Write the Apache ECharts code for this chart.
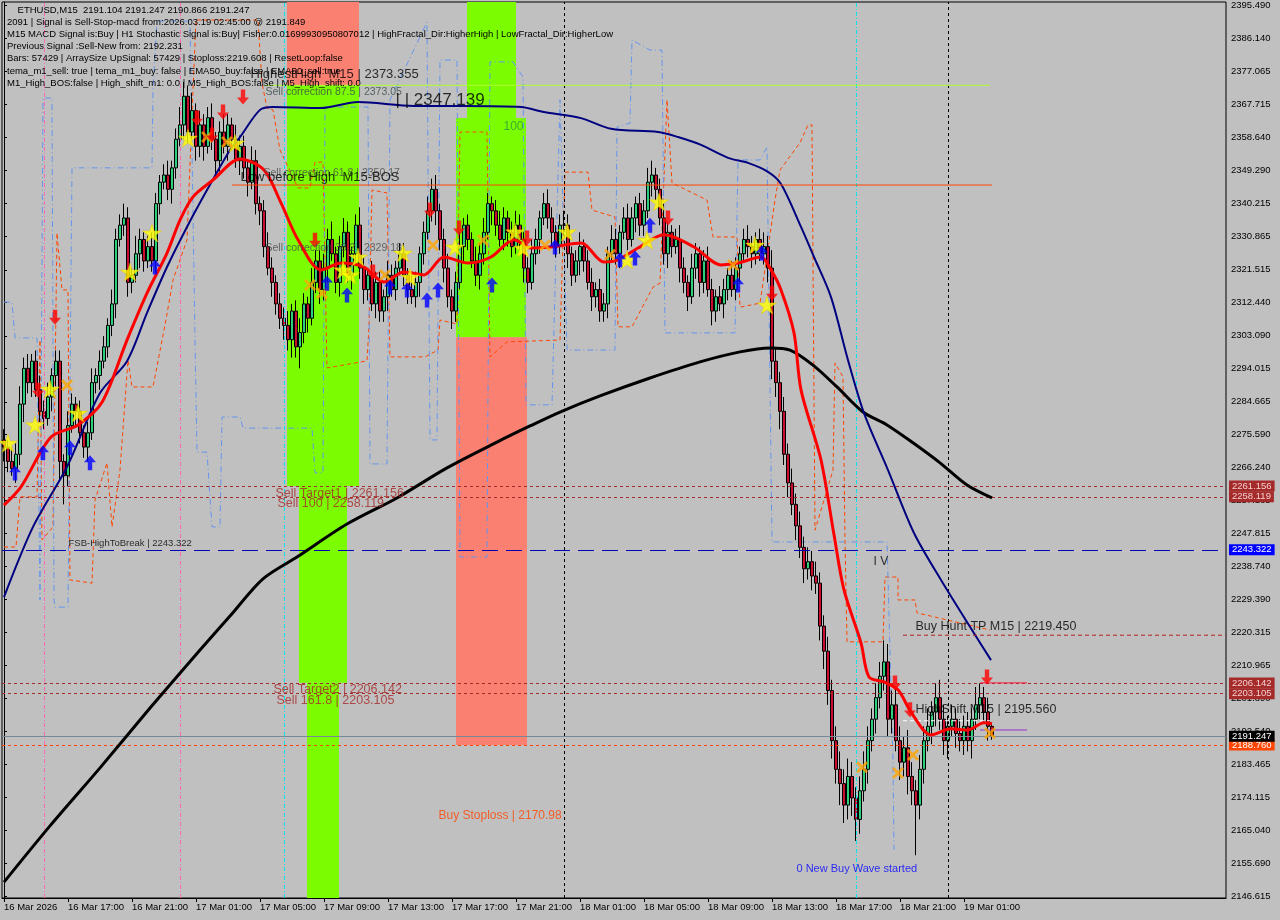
<!DOCTYPE html>
<html><head><meta charset="utf-8">
<script src="https://cdn.jsdelivr.net/npm/echarts@6/dist/echarts.min.js"></script>
<style>html,body{margin:0;padding:0;background:#c0c0c0}#c{width:1280px;height:920px}</style>
</head><body><div id="c"></div>
<script>
// ---------- DATA ----------
const closes = [
2272,2268,2266,2270,2284,2294,2290,2296,2288,2282,
2280,2286,2292,2296,2268,2264,2278,2284,2282,2276,
2272,2276,2290,2292,2296,2300,2306,2312,2330,2334,
2336,2318,2320,2326,2330,2324,2328,2324,2340,2346,
2348,2344,2350,2358,2362,2370,2360,2366,2356,2362,
2356,2364,2358,2352,2360,2356,2362,2358,2352,2356,
2350,2346,2352,2340,2338,2328,2322,2318,2312,2308,
2306,2302,2310,2300,2304,2312,2308,2318,2324,2316,
2322,2330,2326,2318,2328,2332,2320,2326,2334,2322,
2316,2320,2312,2318,2310,2314,2320,2316,2322,2326,
2320,2316,2314,2318,2326,2332,2338,2344,2338,2330,
2322,2314,2310,2318,2328,2334,2330,2324,2320,2326,
2332,2340,2338,2334,2330,2336,2332,2328,2334,2330,
2322,2318,2326,2330,2336,2340,2336,2332,2328,2334,
2334,2326,2320,2324,2328,2324,2318,2314,2316,2310,
2312,2326,2330,2326,2332,2336,2330,2336,2340,2334,
2338,2346,2348,2344,2336,2326,2332,2328,2330,2322,
2318,2314,2322,2326,2318,2324,2316,2310,2314,2312,
2316,2320,2316,2322,2326,2330,2328,2326,2330,2326,
2328,2322,2296,2290,2282,2270,2262,2256,2250,2244,
2238,2240,2236,2234,2222,2215,2204,2190,2182,2178,
2172,2180,2174,2168,2176,2182,2190,2196,2202,2208,
2212,2196,2200,2190,2184,2188,2180,2176,2172,2182,
2190,2194,2198,2202,2196,2190,2194,2196,2192,2190,
2194,2190,2196,2200,2202,2198,2194,2191.247];
const firstOpen = 2274;
const wickUp = [
3,2,4,3,5,3,4,2,3,4, 3,4,2,3,3,2,4,3,2,3, 2,3,4,2,3,3,2,4,3,3, 4,3,2,5,3,2,3,4,3,2,
3,4,2,3,5,4,3,5,2,4, 3,3,4,2,3,5,3,2,4,3, 3,2,4,3,2,3,4,3,2,3, 3,4,2,3,4,3,2,4,3,3,
4,3,5,2,3,4,3,2,3,5, 3,2,4,3,3,2,4,3,2,3, 3,2,4,3,2,3,4,3,4,2, 3,4,2,3,4,2,3,2,4,3,
4,3,2,3,4,3,2,3,4,3, 2,3,4,3,2,3,4,3,2,3, 4,3,2,3,4,2,3,4,2,3, 3,2,4,3,2,3,4,3,2,3,
3,4,4,2,3,4,3,2,3,4, 3,2,4,3,2,3,4,3,2,3, 3,2,4,3,2,3,4,3,2,3, 4,3,5,4,3,4,3,4,3,4,
3,4,3,4,3,3,4,3,4,5, 4,5,4,3,4,5,4,3,4,4, 6,5,4,5,4,3,5,4,3,4, 4,5,3,4,5,4,3,4,3,4,
3,4,3,5,4,3,4,1];
const wickDn = [
4,3,2,4,3,5,3,4,2,3, 3,2,4,3,5,8,3,2,4,3, 3,4,2,3,4,2,3,3,4,2, 3,4,3,2,4,3,2,3,4,3,
2,3,4,3,2,4,3,2,4,3, 4,2,3,4,3,2,4,3,2,4, 3,4,2,3,4,3,2,4,3,3, 4,3,5,3,6,3,4,2,3,4,
3,4,2,3,4,3,2,4,3,3, 4,3,2,4,3,3,4,2,3,2, 3,4,2,3,4,3,2,3,4,3, 4,3,5,3,2,4,3,2,3,4,
3,2,4,3,2,3,4,3,2,3, 4,3,2,3,4,2,3,4,3,2, 3,4,3,2,4,3,2,4,3,3, 3,4,2,3,4,2,3,2,4,3,
3,2,4,3,2,3,4,3,2,4, 3,4,2,3,4,3,2,4,3,2, 4,3,2,3,4,2,3,4,3,2, 3,4,5,4,5,3,4,3,4,3,
4,3,4,3,4,5,4,5,4,6, 5,4,5,6,4,3,4,3,4,3, 4,5,4,3,5,4,5,4,14,4, 4,3,5,4,3,4,5,3,4,3,
4,3,5,3,4,3,4,1];

const tickLabels = ['16 Mar 2026','16 Mar 17:00','16 Mar 21:00','17 Mar 01:00','17 Mar 05:00','17 Mar 09:00',
 '17 Mar 13:00','17 Mar 17:00','17 Mar 21:00','18 Mar 01:00','18 Mar 05:00','18 Mar 09:00',
 '18 Mar 13:00','18 Mar 17:00','18 Mar 21:00','19 Mar 01:00'];
const yTicks = [2395.490,2386.140,2377.065,2367.715,2358.640,2349.290,2340.215,2330.865,2321.515,2312.440,
 2303.090,2294.015,2284.665,2275.590,2266.240,2257.165,2247.815,2238.740,2229.390,2220.315,2210.965,
 2201.890,2192.540,2183.465,2174.115,2165.040,2155.690,2146.615];

const redMA = [[0,2255.8],[4.25,2260.9],[11.75,2274.8],[18.5,2278.2],[24.5,2284.5],[30.75,2301.9],[35.75,2315.0],[40.75,2326.2],[44,2335.4],[47.25,2341.9],[52.25,2346.6],[59,2352.5],[65,2349.4],[69.25,2340.2],[73.5,2329.9],[79.25,2321.5],[84.25,2323.4],[90,2322.3],[95,2318.1],[100,2320.9],[105,2320.1],[110,2325.1],[116,2323.4],[121.75,2325.1],[127.5,2329.9],[131.75,2327.6],[136.75,2327.9],[144.25,2329.0],[150,2323.7],[153.5,2324.3],[158.5,2327.6],[165,2331.3],[172.5,2327.9],[179.25,2322.9],[183.5,2323.4],[189.25,2325.1],[191.75,2321.5],[194.25,2315.9],[197.5,2303.9],[199.25,2288.0],[204.25,2268.4],[207.5,2247.5],[210,2232.1],[214.25,2217.3],[216.25,2207.8],[220,2206.4],[223.5,2204.2],[226.75,2198.0],[231.75,2191.6],[236.75,2193.3],[241,2193.0],[245,2195.0],[247,2194.7]];
const navyMA = [[0,2230.1],[7.25,2249.7],[15.75,2266.5],[24,2287.1],[30.75,2296.0],[35.75,2309.5],[40.75,2322.3],[45.75,2333.5],[50.75,2343.8],[56.5,2355.0],[59,2358.6],[64,2366.2],[67.25,2367.0],[79.25,2366.7],[88.5,2368.4],[102.5,2367.3],[115,2367.3],[129.25,2367.0],[135,2365.6],[144.25,2363.9],[151.75,2360.9],[163.5,2360.0],[168.5,2358.6],[174.25,2356.4],[181,2352.8],[186,2351.4],[191,2348.9],[194.25,2345.5],[199.25,2333.5],[202.5,2325.1],[206.75,2313.9],[211,2296.3],[215,2281.5],[221,2265.6],[227.5,2248.0],[234.25,2234.9],[246.75,2212.5]];
const blackMA = [[0,2150.5],[11.5,2166.2],[24,2182.4],[36.5,2199.1],[49,2215.3],[56.5,2224.8],[64.75,2235.2],[73.25,2241.3],[85.75,2250.5],[98.25,2257.8],[110.75,2266.2],[123.25,2273.4],[131.5,2277.9],[139,2281.8],[149,2286.3],[161.5,2291.3],[174,2295.8],[184,2298.6],[191.5,2299.7],[196.5,2299.1],[202.25,2294.9],[208.25,2288.8],[214.75,2281.8],[220.75,2278.2],[227.25,2273.2],[234,2267.6],[240.75,2261.4],[247,2257.8]];

const orangeBand = [[0,2244.1],[3,2244.1],[4,2258.1],[8.25,2258.1],[9,2301.9],[9.5,2246.1],[12.25,2249.7],[13.25,2331.8],[14.5,2315.9],[16,2315.9],[16.5,2234.9],[22,2234.0],[22.75,2257.2],[25.75,2267.6],[27,2249.7],[29,2265.6],[31,2296.3],[32,2288.8],[37.25,2288.8],[40.25,2306.1],[42.25,2318.7],[45.75,2329.9],[47,2365.3],[48,2391.3],[63.5,2391.3],[64.5,2373.7],[65.75,2366.7],[67.25,2366.2],[69,2355.0],[73.5,2344.4],[76.5,2344.4],[77.75,2351.6],[79.75,2351.6],[80.75,2294.1],[90.75,2296.1],[91.25,2305.6],[92,2343.8],[95.75,2343.0],[96.5,2297.2],[105.25,2297.2],[108.5,2299.1],[109,2307.5],[113.25,2306.4],[114,2360.0],[120.75,2360.0],[121.5,2297.2],[125.75,2301.4],[139,2301.9],[140.25,2348.8],[146,2348.8],[147,2338.2],[152.75,2336.3],[153.5,2305.6],[157,2305.6],[162.25,2316.7],[164,2317.8],[165.75,2369.0],[167,2345.8],[175.75,2341.0],[177.25,2330.7],[183.25,2330.7],[184,2311.1],[189,2312.2],[192.75,2341.0],[194,2349.4],[199,2357.0],[201,2362.0],[202,2362.0],[202.75,2248.8],[207.25,2265.6],[207.75,2295.5],[209.75,2291.6],[210.25,2246.1],[210.75,2217.6],[219.75,2217.6],[220.25,2235.7],[223.5,2235.7],[223.5,2229.3],[227.75,2229.3],[228.25,2225.7],[246.5,2220.9]];
const blueBand = [[0,2312.5],[2,2312.5],[2.75,2302.5],[8.25,2302.5],[9,2229.3],[9.75,2369.5],[12,2369.5],[12.5,2229.3],[12.75,2227.3],[16,2227.3],[17,2350.0],[37,2350.0],[37.25,2371.8],[38.25,2391.0],[46.5,2391.0],[47.75,2301.9],[48.25,2270.6],[50.75,2270.6],[52,2249.7],[54,2249.7],[54.5,2280.4],[59,2280.4],[59.75,2277.3],[77,2277.3],[77.75,2264.8],[79.75,2264.8],[80.25,2367.0],[91,2367.0],[91.5,2267.3],[95.75,2267.3],[96.5,2369.0],[105.75,2390.7],[106.5,2274.0],[108.25,2274.0],[109,2380.1],[113.25,2380.1],[114,2241.3],[120.75,2241.3],[121.5,2379.6],[127.25,2379.6],[129.75,2375.4],[130.5,2283.8],[137,2283.8],[139,2369.0],[140.75,2299.1],[152.75,2299.1],[153.25,2361.4],[156.5,2362.5],[157,2385.7],[161.5,2382.9],[164.5,2382.9],[165.25,2303.9],[182.75,2303.9],[183.5,2352.2],[189,2352.2],[190.75,2355.8],[192,2245.5],[220.75,2245.5],[222.25,2184.6],[222.5,2159.5]];

const starPts = [[1,2273.1],[7.75,2278.2],[11.5,2288.2],[18.5,2281.5],[31.5,2320.9],[37,2331.8],[46,2358.3],[57.75,2356.9],[84.75,2321.5],[86.5,2320.1],[88.5,2325.1],[99.75,2326.2],[101.5,2319.5],[112.75,2327.9],[127.75,2332.1],[129.75,2327.6],[140.75,2332.1],[155.75,2324.3],[160.75,2329.8],[163.75,2340.5],[187.75,2328.4],[190.75,2311.7]];
const crossPts = [[15.75,2289.3],[50.75,2358.6],[55.75,2357.2],[76.5,2317.3],[79.5,2315.0],[95.25,2320.1],[107.25,2328.4],[119.75,2329.8],[135.25,2328.4],[151.5,2325.7],[182.25,2322.9],[214.5,2182.6],[223.5,2181.0],[227.25,2186.0],[246.5,2192.1]];
const upArrowPts = [[2.75,2264.8],[9.75,2270.4],[16.5,2271.8],[21.5,2267.6],[37.75,2322.3],[80.75,2317.8],[85.75,2314.5],[96.5,2316.7],[100.75,2315.9],[105.75,2313.1],[108.5,2315.9],[122,2317.3],[137.75,2327.9],[154,2324.3],[157.75,2324.8],[161.5,2334.0],[183.5,2317.3],[189.5,2326.2]];
const downArrowPts = [[8.5,2287.9],[12.75,2308.3],[48.25,2363.9],[52,2359.2],[54.75,2365.6],[59.75,2369.8],[77.75,2329.8],[92.25,2320.9],[106.5,2338.2],[113.75,2333.2],[130.75,2330.4],[166,2336.0],[192,2315.0],[222.75,2206.1],[226.5,2198.6],[245.75,2207.8]];

const levelLines = [
 {v:2261.156, color:'#a52a2a', type:[3,3], bg:'#a52a2a', fg:'#f4d0d0'},
 {v:2258.119, color:'#a52a2a', type:[3,3], bg:'#a52a2a', fg:'#f4d0d0'},
 {v:2243.322, color:'#0000b4', type:[16,8], bg:'#0000ff', fg:'#ffffff'},
 {v:2206.142, color:'#a52a2a', type:[3,3], bg:'#a52a2a', fg:'#f4d0d0'},
 {v:2203.105, color:'#a52a2a', type:[3,3], bg:'#a52a2a', fg:'#f4d0d0'},
 {v:2188.760, color:'#ff4500', type:[3,3], bg:'#ff4500', fg:'#ffffff'},
 {v:2191.247, color:'#778899', type:'solid', bg:'#000000', fg:'#ffffff'}
];
const vLines = [
 {x:10, color:'#ff69b4', type:[4,2,1,2]},
 {x:44, color:'#ff69b4', type:[4,2,1,2]},
 {x:70, color:'#00e5ee', type:[4,2,1,2]},
 {x:140, color:'#000000', type:[3,3]},
 {x:236, color:'#000000', type:[3,3]},
 {x:213, color:'#00e5ee', type:[4,2,1,2]}
];
// boxes: [x1, x2, priceTop, priceBottom, color]
const boxes = [
 [70.75, 88.75, 2396.33, 2373.05, '#fa8072'],
 [70.75, 88.75, 2373.05, 2261.156, '#7cfc00'],
 [73.75, 85.75, 2261.156, 2206.142, '#7cfc00'],
 [75.75, 83.75, 2206.142, 2146.05, '#7cfc00'],
 [115.75, 128, 2396.33, 2363.9, '#7cfc00'],
 [113, 130.5, 2363.9, 2302.7, '#7cfc00'],
 [113, 130.75, 2302.7, 2188.76, '#fa8072']
];
// short segments: [x1, x2, price, color, type, width]
const segments = [
 [65.25, 246.5, 2373.05, '#adff2f', 'solid', 1],
 [57, 247, 2345.2, '#ff4500', 'solid', 1],
 [224.75, 305.5, 2219.45, '#b22222', [4,3], 1],
 [224.75, 246.5, 2195.56, '#ffffff', [4,3], 1],
 [244, 255.75, 2206.14, '#ff1a3c', 'solid', 1],
 [244, 255.75, 2192.98, '#9932cc', 'solid', 1]
];
// chart texts: [x, price, text, color, size]
const chartTexts = [
 [61.5, 2376.2, 'HighestHigh  M15 | 2373.355', '#000000', 13],
 [65.25, 2371.2, 'Sell correction 87.5 | 2373.05', '#3a4a4a', 10.5],
 [97.75, 2369.0, '| | 2347.139', '#000000', 17],
 [124.75, 2361.4, '100', '#279a3e', 12],
 [64.75, 2348.6, 'Sell correction 61.8 | 2350.17', '#4a4a4a', 10.5],
 [59, 2347.4, 'Low before High  M15-BOS', '#000000', 13],
 [65.25, 2327.6, 'Sell correction 38.2 | 2329.18', '#4a4a4a', 10.5],
 [67.75, 2258.9, 'Sell Target1 | 2261.156', '#a52a2a', 12.5],
 [68.25, 2256.1, 'Sell 100 | 2258.119', '#a52a2a', 12.5],
 [16, 2245.2, 'FSB-HighToBreak | 2243.322', '#000000', 9.5],
 [217.25, 2239.9, 'I V', '#000000', 12],
 [227.75, 2222.0, 'Buy Hunt TP M15 | 2219.450', '#000000', 12.5],
 [67.25, 2204.2, 'Sell Target2 | 2206.142', '#a52a2a', 12.5],
 [68, 2201.1, 'Sell 161.8 | 2203.105', '#a52a2a', 12.5],
 [227.75, 2198.6, 'HighShift M15 | 2195.560', '#000000', 12.5],
 [108.5, 2168.96, 'Buy Stoploss | 2170.98', '#ff4500', 12],
 [198, 2154.15, '0 New Buy Wave started', '#0000ff', 11]
];
const infoLines = [
 '    ETHUSD,M15  2191.104 2191.247 2190.866 2191.247',
 '2091 | Signal is Sell-Stop-macd from:2026.03.19 02:45:00 @ 2191.849',
 'M15 MACD Signal is:Buy | H1 Stochastic Signal is:Buy| Fisher:0.01699930950807012 | HighFractal_Dir:HigherHigh | LowFractal_Dir:HigherLow',
 'Previous Signal :Sell-New from: 2192.231',
 'Bars: 57429 | ArraySize UpSignal: 57429 | Stoploss:2219.608 | ResetLoop:false',
 'tema_m1_sell: true | tema_m1_buy: false | EMA50_buy:false | EMA50_sell:true',
 'M1_High_BOS:false | High_shift_m1: 0.0 | M5_High_BOS:false | M5_High_shift: 0.0'
];

// ---------- BUILD ----------
const SLOTS = 306;
const Y_MIN = 2146.05, Y_MAX = 2396.33;
const FONT = 'Liberation Sans, Arial, sans-serif';
const start = Date.UTC(2026,2,16,13,0);
const cats = [];
for (let i=0;i<SLOTS;i++){ const d=new Date(start+i*15*60000); cats.push(d.toISOString().slice(0,16)); }
const candles = closes.map((c,i)=>{
  const o = i===0 ? firstOpen : closes[i-1];
  return [o, c, Math.min(o,c)-wickDn[i], Math.max(o,c)+wickUp[i]];
});
const showTick = (idx)=> idx%16===0 && idx/16 < tickLabels.length;

const UP='path://M6,0 L12,6 L8.2,6 L8.2,13 L3.8,13 L3.8,6 L0,6 Z';
const DOWN='path://M3.8,0 L8.2,0 L8.2,7 L12,7 L6,13 L0,7 L3.8,7 Z';
const STAR='path://M50,0 L61,35 L98,35 L68,57 L79,91 L50,70 L21,91 L32,57 L2,35 L39,35 Z';
const CROSS='path://M0,2 L2,0 L6,4 L10,0 L12,2 L8,6 L12,10 L10,12 L6,8 L2,12 L0,10 L4,6 Z';

const series = [];
series.push({type:'line', xAxisIndex:1, yAxisIndex:0, data:[], z:1, silent:true,
  markArea:{silent:true, data: boxes.map(b=>[{coord:[b[0],b[2]], itemStyle:{color:b[4], opacity:1}},{coord:[b[1],b[3]]}])}});
series.push({type:'line', xAxisIndex:1, yAxisIndex:0, data:[], z:2, silent:true,
  markLine:{silent:true, symbol:['none','none'], label:{show:false},
    data: vLines.map(v=>({xAxis:v.x, lineStyle:{color:v.color, type:v.type, width:1}}))}});
series.push({type:'line', xAxisIndex:1, data:orangeBand, symbol:'none', z:3, lineStyle:{color:'#ff4500', width:1, type:[4,3]}});
series.push({type:'line', xAxisIndex:1, data:blueBand, symbol:'none', z:3, lineStyle:{color:'#6495ed', width:1, type:[6,3,1,3]}});
series.push({type:'candlestick', xAxisIndex:0, yAxisIndex:0, data:candles, barWidth:3, z:4,
  itemStyle:{color:'#2ecf7a', color0:'#c8102e', borderColor:'#000', borderColor0:'#000', borderWidth:1}});
series.push({type:'line', xAxisIndex:1, data:blackMA, symbol:'none', smooth:0.3, z:5, lineStyle:{color:'#000', width:3}});
series.push({type:'line', xAxisIndex:1, data:navyMA, symbol:'none', smooth:0.3, z:5, lineStyle:{color:'#000080', width:2}});
series.push({type:'line', xAxisIndex:1, data:redMA, symbol:'none', smooth:0.3, z:6, lineStyle:{color:'#ff0000', width:3}});
segments.forEach(s=>{
  series.push({type:'line', xAxisIndex:1, data:[[s[0],s[2]],[s[1],s[2]]], symbol:'none', z:5,
    lineStyle:{color:s[3], type:s[4], width:s[5]}});
});
series.push({type:'line', xAxisIndex:1, yAxisIndex:0, data:[], z:7, silent:true,
  markLine:{silent:true, symbol:['none','none'],
    data: levelLines.map(l=>({yAxis:l.v, lineStyle:{color:l.color, type:l.type, width:1},
      label:{show:true, position:'end', distance:3, formatter: l.v.toFixed(3), backgroundColor:l.bg, color:l.fg,
        padding:[1,3,0,3], fontSize:9.5, fontFamily:FONT}}))}});
series.push({type:'scatter', xAxisIndex:1, data:starPts, symbol:STAR, symbolSize:[19,18], z:8, itemStyle:{color:'#ffff00', borderColor:'#e0c000', borderWidth:0.5}});
series.push({type:'scatter', xAxisIndex:1, data:crossPts, symbol:CROSS, symbolSize:[12,12], z:8, itemStyle:{color:'#ffa500'}});
series.push({type:'scatter', xAxisIndex:1, data:upArrowPts, symbol:UP, symbolSize:[12,15], z:8, itemStyle:{color:'#0000ff'}});
series.push({type:'scatter', xAxisIndex:1, data:downArrowPts, symbol:DOWN, symbolSize:[12,15], z:8, itemStyle:{color:'#ff0000'}});
series.push({type:'scatter', xAxisIndex:1, z:9, symbolSize:1, itemStyle:{color:'rgba(0,0,0,0)'}, silent:true,
  label:{show:true, position:'right', distance:0},
  data: chartTexts.map(t=>({value:[t[0],t[1]], label:{show:true, position:'right', distance:0,
    formatter:t[2], color:t[3], fontSize:t[4], fontFamily:FONT}}))});

const option = {
  backgroundColor:'#c0c0c0',
  animation:false,
  grid:{left:2, right:54, top:2, bottom:22, show:true, borderColor:'#000', borderWidth:1, backgroundColor:'rgba(0,0,0,0)', containLabel:false},
  xAxis:[
    {type:'category', data:cats, boundaryGap:true, gridIndex:0,
     axisLine:{show:true, lineStyle:{color:'#000', width:1}},
     axisTick:{show:true, interval:(i)=>showTick(i), alignWithLabel:true, length:4, lineStyle:{color:'#000'}},
     axisLabel:{show:true, interval:(i)=>showTick(i), formatter:(v,i)=>tickLabels[i/16], align:'left', margin:4,
       fontSize:9.5, color:'#000', fontFamily:FONT},
     splitLine:{show:false}},
    {type:'value', min:-0.5, max:SLOTS-0.5, gridIndex:0, show:false, splitLine:{show:false}}
  ],
  yAxis:[{type:'value', position:'right', min:Y_MIN, max:Y_MAX, scale:true,
    axisLine:{show:true, lineStyle:{color:'#000'}},
    axisTick:{show:true, customValues:yTicks, length:3, lineStyle:{color:'#000'}},
    axisLabel:{show:true, customValues:yTicks, formatter:(v)=>v.toFixed(3), margin:5, fontSize:9.5, color:'#000', fontFamily:FONT},
    splitLine:{show:false}}],
  graphic: infoLines.map((t,k)=>({type:'text', left:7, top:5+k*12.2, z:100,
     style:{text:t, font:'9.5px '+FONT, fill:'#000'}})),
  series
};
const chart = echarts.init(document.getElementById('c'));
chart.setOption(option);
</script></body></html>
